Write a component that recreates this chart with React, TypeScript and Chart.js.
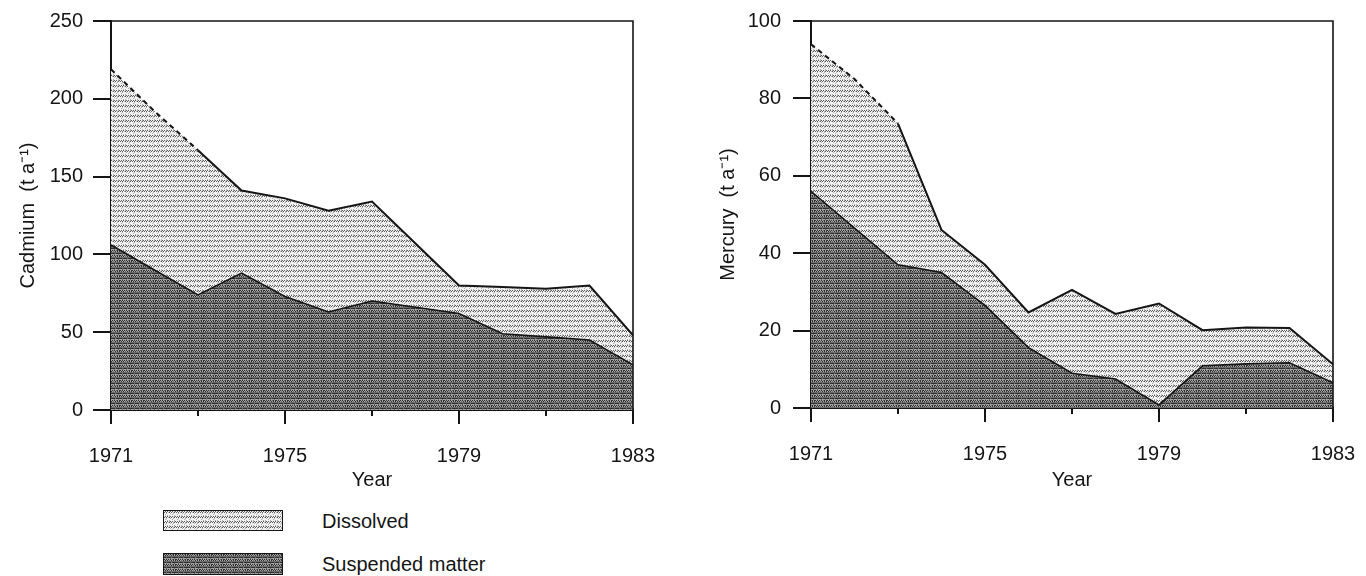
import React, { useEffect, useMemo, useRef } from "react";
import { Chart, registerables } from "chart.js";

Chart.register(...registerables);

// ---------- data ----------
const years = [1971, 1972, 1973, 1974, 1975, 1976, 1977, 1978, 1979, 1980, 1981, 1982, 1983];
const xMajorTicks = [1971, 1975, 1979, 1983];
const xMinorTicks = [1973, 1977, 1981];

const cadmiumSuspended = [106, 90, 74, 88, 73, 63, 70, 66, 62, 49, 47, 45, 29];
const cadmiumDissolved = [113, 102, 93, 53, 63, 65, 64, 41, 18, 30, 31, 35, 19];
const cadmiumYTicks = [0, 50, 100, 150, 200, 250];

const mercurySuspended = [56, 46.5, 37, 35, 26.5, 15.6, 9, 7.5, 0.8, 10.9, 11.4, 11.7, 6.5];
const mercuryDissolved = [38, 38.5, 36.5, 11, 10.5, 9.1, 21.5, 16.8, 26.2, 9.2, 9.4, 9, 4.8];
const mercuryYTicks = [0, 20, 40, 60, 80, 100];

const dashedUntilYear = 1973;

const seriesNames = ["Suspended matter", "Dissolved"];
const xTitle = "Year";
const cadmiumTitle = "Cadmium  (t a\u207B\u00B9)";
const mercuryTitle = "Mercury  (t a\u207B\u00B9)";

const FONT = '"Liberation Sans", Arial, Helvetica, sans-serif';
const INK = "#151515";

// ---------- textures ----------
function makeTile(rows: string[], colors: Record<string, string>): HTMLCanvasElement {
  const c = document.createElement("canvas");
  c.width = rows[0].length;
  c.height = rows.length;
  const ctx = c.getContext("2d")!;
  rows.forEach((r, y) => {
    r.split("").forEach((ch, x) => {
      ctx.fillStyle = colors[ch];
      ctx.fillRect(x, y, 1, 1);
    });
  });
  return c;
}

function dissolvedTile() {
  return makeTile(
    [
      "wgwgwlgwgwlg",
      "gwgwlgwgwlgw",
      "wwlwwwlwwlww",
      "wlwwwwwwlwww",
      "wwwlwlwwwwlw",
    ],
    { w: "#f2f2f2", g: "#5e5e5e", l: "#b0b0b0" }
  );
}

function suspendedTile() {
  return makeTile(
    [
      "dldldldlmdld",
      "ldldlmldldld",
      "mmmmmmmmmmmm",
      "ddmddddmdddd",
      "llmlllmlllml",
    ],
    { d: "#303030", l: "#a4a4a4", m: "#6a6a6a" }
  );
}

// ---------- frame / ticks plugin ----------
const framePlugin = {
  id: "frame",
  afterDraw(chart: any) {
    const { ctx, chartArea: a, scales } = chart;
    const xs = scales.x;
    const ys = scales.y;
    ctx.save();
    ctx.strokeStyle = INK;
    ctx.lineCap = "butt";
    ctx.lineWidth = 1.6;
    ctx.beginPath();
    ctx.moveTo(a.left, a.top);
    ctx.lineTo(a.right, a.top);
    ctx.lineTo(a.right, a.bottom);
    ctx.stroke();
    ctx.lineWidth = 2;
    ctx.beginPath();
    ys.ticks.forEach((t: any) => {
      const py = Math.round(ys.getPixelForValue(t.value));
      ctx.moveTo(a.left - 18, py);
      ctx.lineTo(a.left, py);
    });
    xMajorTicks.forEach((v) => {
      const px = Math.round(xs.getPixelForValue(v));
      ctx.moveTo(px, a.bottom);
      ctx.lineTo(px, a.bottom + 14);
    });
    xMinorTicks.forEach((v) => {
      const px = Math.round(xs.getPixelForValue(v));
      ctx.moveTo(px, a.bottom);
      ctx.lineTo(px, a.bottom + 6);
    });
    ctx.stroke();
    ctx.restore();
  },
};

interface PanelOpts {
  suspended: number[];
  dissolved: number[];
  yTicks: number[];
  yTitle: string;
  yAxisWidth: number;
  xAxisHeight: number;
  padTop: number;
  padRight: number;
  titlePad: number;
  yLabelPad: number;
  suspPattern: CanvasPattern;
  dissPattern: CanvasPattern;
}

function makeConfig(o: PanelOpts): any {
  const yMax = o.yTicks[o.yTicks.length - 1];
  return {
    type: "line",
    data: {
      datasets: [
        {
          label: seriesNames[0],
          data: years.map((yr, i) => ({ x: yr, y: o.suspended[i] })),
          backgroundColor: o.suspPattern,
          borderColor: INK,
          borderWidth: 1.6,
          fill: "origin",
          pointRadius: 0,
          tension: 0,
        },
        {
          label: seriesNames[1],
          data: years.map((yr, i) => ({ x: yr, y: o.dissolved[i] })),
          backgroundColor: o.dissPattern,
          borderColor: INK,
          borderWidth: 2,
          fill: "-1",
          pointRadius: 0,
          tension: 0,
          segment: {
            borderDash: (ctx: any) =>
              years[ctx.p1DataIndex] <= dashedUntilYear ? [5, 4] : undefined,
          },
        },
      ],
    },
    options: {
      animation: false,
      responsive: true,
      maintainAspectRatio: false,
      layout: { padding: { left: 0, top: o.padTop, right: o.padRight, bottom: 0 } },
      plugins: {
        legend: { display: false },
        tooltip: { enabled: false },
      },
      scales: {
        x: {
          type: "linear",
          min: years[0],
          max: years[years.length - 1],
          afterBuildTicks: (s: any) => {
            s.ticks = xMajorTicks.map((v) => ({ value: v }));
          },
          afterFit: (s: any) => {
            s.height = o.xAxisHeight;
            s.paddingLeft = 0;
            s.paddingRight = 0;
          },
          grid: { display: false, drawTicks: false },
          border: { display: true, color: INK, width: 2 },
          ticks: {
            padding: 34,
            color: INK,
            font: { family: FONT, size: 20 },
            callback: (v: any) => String(v),
            maxRotation: 0,
          },
          title: {
            display: true,
            text: xTitle,
            color: INK,
            font: { family: FONT, size: 20 },
            padding: { top: 0, bottom: 8 },
          },
        },
        y: {
          stacked: true,
          min: 0,
          max: yMax,
          afterBuildTicks: (s: any) => {
            s.ticks = o.yTicks.map((v) => ({ value: v }));
          },
          afterFit: (s: any) => {
            s.width = o.yAxisWidth;
            s.paddingTop = 0;
            s.paddingBottom = 0;
          },
          grid: { display: false, drawTicks: false },
          border: { display: true, color: INK, width: 2 },
          ticks: {
            padding: o.yLabelPad,
            color: INK,
            font: { family: FONT, size: 20 },
            callback: (v: any) => String(v),
          },
          title: {
            display: true,
            text: o.yTitle,
            color: INK,
            font: { family: FONT, size: 20 },
            padding: { top: o.titlePad, bottom: 0 },
          },
        },
      },
    },
    plugins: [framePlugin],
  };
}

export default function App() {
  const leftRef = useRef<HTMLCanvasElement>(null);
  const rightRef = useRef<HTMLCanvasElement>(null);

  const tiles = useMemo(() => {
    const d = dissolvedTile();
    const s = suspendedTile();
    return { d, s, dUrl: d.toDataURL(), sUrl: s.toDataURL() };
  }, []);

  useEffect(() => {
    const lctx = leftRef.current!.getContext("2d")!;
    const rctx = rightRef.current!.getContext("2d")!;
    const left = new Chart(
      leftRef.current!,
      makeConfig({
        suspended: cadmiumSuspended,
        dissolved: cadmiumDissolved,
        yTicks: cadmiumYTicks,
        yTitle: cadmiumTitle,
        yAxisWidth: 111,
        xAxisHeight: 90,
        padTop: 21,
        padRight: 50,
        titlePad: 16,
        yLabelPad: 28,
        suspPattern: lctx.createPattern(tiles.s, "repeat")!,
        dissPattern: lctx.createPattern(tiles.d, "repeat")!,
      })
    );
    const right = new Chart(
      rightRef.current!,
      makeConfig({
        suspended: mercurySuspended,
        dissolved: mercuryDissolved,
        yTicks: mercuryYTicks,
        yTitle: mercuryTitle,
        yAxisWidth: 128,
        xAxisHeight: 92,
        padTop: 21,
        padRight: 33,
        titlePad: 33,
        yLabelPad: 30,
        suspPattern: rctx.createPattern(tiles.s, "repeat")!,
        dissPattern: rctx.createPattern(tiles.d, "repeat")!,
      })
    );
    return () => {
      left.destroy();
      right.destroy();
    };
  }, [tiles]);

  const boxStyle = (url: string, top: number, h: number): React.CSSProperties => ({
    position: "absolute",
    left: 163,
    top,
    width: 120,
    height: h,
    boxSizing: "border-box",
    border: `1.5px solid ${INK}`,
    backgroundImage: `url(${url})`,
    backgroundRepeat: "repeat",
    imageRendering: "pixelated",
  });
  const textStyle = (top: number): React.CSSProperties => ({
    position: "absolute",
    left: 322,
    top,
    height: 26,
    lineHeight: "26px",
    fontSize: 20,
    color: INK,
    whiteSpace: "nowrap",
  });

  return (
    <div
      style={{
        position: "absolute",
        left: 0,
        top: 0,
        width: 1366,
        height: 576,
        background: "#fff",
        fontFamily: FONT,
        overflow: "hidden",
      }}
    >
      <div style={{ position: "absolute", left: 0, top: 0, width: 683, height: 500 }}>
        <canvas ref={leftRef} />
      </div>
      <div style={{ position: "absolute", left: 683, top: 0, width: 683, height: 500 }}>
        <canvas ref={rightRef} />
      </div>
      <div style={boxStyle(tiles.dUrl, 510, 21)} />
      <div style={textStyle(508)}>{seriesNames[1]}</div>
      <div style={boxStyle(tiles.sUrl, 553, 22)} />
      <div style={textStyle(551)}>{seriesNames[0]}</div>
    </div>
  );
}
